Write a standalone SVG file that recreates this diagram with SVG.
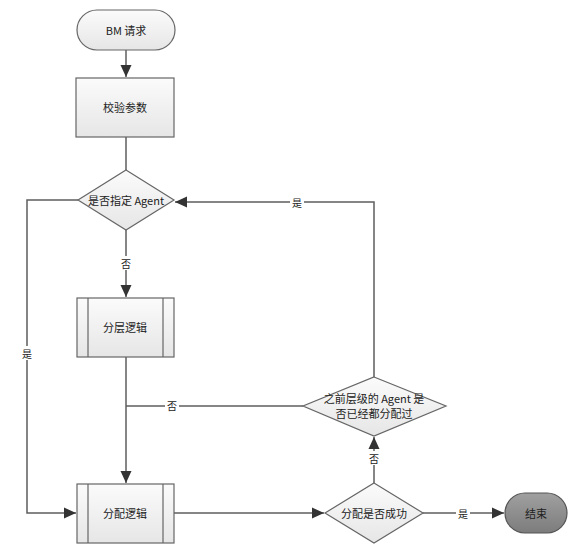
<svg xmlns="http://www.w3.org/2000/svg" width="569" height="546" viewBox="0 0 569 546">
<defs>
<linearGradient id="g" x1="0" y1="0" x2="0" y2="1"><stop offset="0" stop-color="#fbfbfb"/><stop offset="1" stop-color="#e6e6e6"/></linearGradient>
<linearGradient id="gd" x1="0" y1="0" x2="0" y2="1"><stop offset="0" stop-color="#a0a0a0"/><stop offset="1" stop-color="#7c7c7c"/></linearGradient>
<marker id="ah" viewBox="0 0 12 12" refX="12" refY="6" markerWidth="12" markerHeight="12" markerUnits="userSpaceOnUse" orient="auto"><path d="M0,0.5 L12,6 L0,11.5 z" fill="#333"/></marker>
<style>
.n{fill:url(#g);stroke:#666;stroke-width:1.2}
.il{stroke:#666;stroke-width:1.2}
.c{fill:none;stroke:#5e5e5e;stroke-width:1.5}
.t{font-family:"Noto Sans CJK SC","DejaVu Sans",sans-serif;font-size:11px;fill:#222;text-anchor:middle;dominant-baseline:central}
.lb{font-family:"Noto Sans CJK SC","DejaVu Sans",sans-serif;font-size:10px;fill:#222;text-anchor:middle;dominant-baseline:central}
.bg{fill:#fff}
</style>
</defs>
<rect width="569" height="546" fill="#fff"/>
<g id="connectors">
<path class="c" d="M126,50 V77" marker-end="url(#ah)"/>
<path class="c" d="M126,137 V170"/>
<path class="c" d="M126,230 V297" marker-end="url(#ah)"/>
<path class="c" d="M78,200 H27 V513 H76" marker-end="url(#ah)"/>
<path class="c" d="M126,357 V483" marker-end="url(#ah)"/>
<path class="c" d="M303,406 H126"/>
<path class="c" d="M374,377 V202 H175" marker-end="url(#ah)"/>
<path class="c" d="M174,513 H324" marker-end="url(#ah)"/>
<path class="c" d="M374,483 V437" marker-end="url(#ah)"/>
<path class="c" d="M423,513 H504" marker-end="url(#ah)"/>
<rect class="bg" x="119" y="256" width="14" height="14"/>
<text class="lb" x="126" y="263">否</text>
<rect class="bg" x="20" y="346" width="14" height="14"/>
<text class="lb" x="27" y="353">是</text>
<rect class="bg" x="165" y="398" width="14" height="14"/>
<text class="lb" x="172" y="405">否</text>
<rect class="bg" x="290" y="195" width="14" height="14"/>
<text class="lb" x="297" y="202">是</text>
<rect class="bg" x="367" y="451" width="14" height="14"/>
<text class="lb" x="374" y="458">否</text>
<rect class="bg" x="456" y="506" width="14" height="14"/>
<text class="lb" x="463" y="513">是</text>
</g>
<g id="start">
<rect class="n" x="77" y="10" width="98" height="40" rx="20"/>
<text class="t" x="126" y="30">BM 请求</text>
</g>
<g id="validate">
<rect class="n" x="76" y="78" width="98" height="59"/>
<text class="t" x="125" y="107">校验参数</text>
</g>
<g id="agentSpecified">
<polygon class="n" points="126,170 174,200 126,230 78,200"/>
<text class="t" x="126" y="200">是否指定 Agent</text>
</g>
<g id="layerLogic">
<rect class="n" x="77" y="298" width="97" height="59"/>
<line class="il" x1="88" y1="298" x2="88" y2="357"/>
<line class="il" x1="163" y1="298" x2="163" y2="357"/>
<text class="t" x="125" y="327">分层逻辑</text>
</g>
<g id="allocLogic">
<rect class="n" x="77" y="484" width="97" height="59"/>
<line class="il" x1="88" y1="484" x2="88" y2="543"/>
<line class="il" x1="163" y1="484" x2="163" y2="543"/>
<text class="t" x="125" y="513">分配逻辑</text>
</g>
<g id="prevAllocated">
<polygon class="n" points="374,377 446,406 374,436 303,406"/>
<text class="t" x="374" y="398">之前层级的 Agent 是</text>
<text class="t" x="374" y="413">否已经都分配过</text>
</g>
<g id="allocSuccess">
<polygon class="n" points="374,483 423,513 374,543 325,513"/>
<text class="t" x="374" y="513">分配是否成功</text>
</g>
<g id="end">
<rect x="505" y="493" width="62" height="40" rx="20" fill="url(#gd)" stroke="#555" stroke-width="1.2"/>
<text class="t" x="536" y="513">结束</text>
</g>
</svg>
